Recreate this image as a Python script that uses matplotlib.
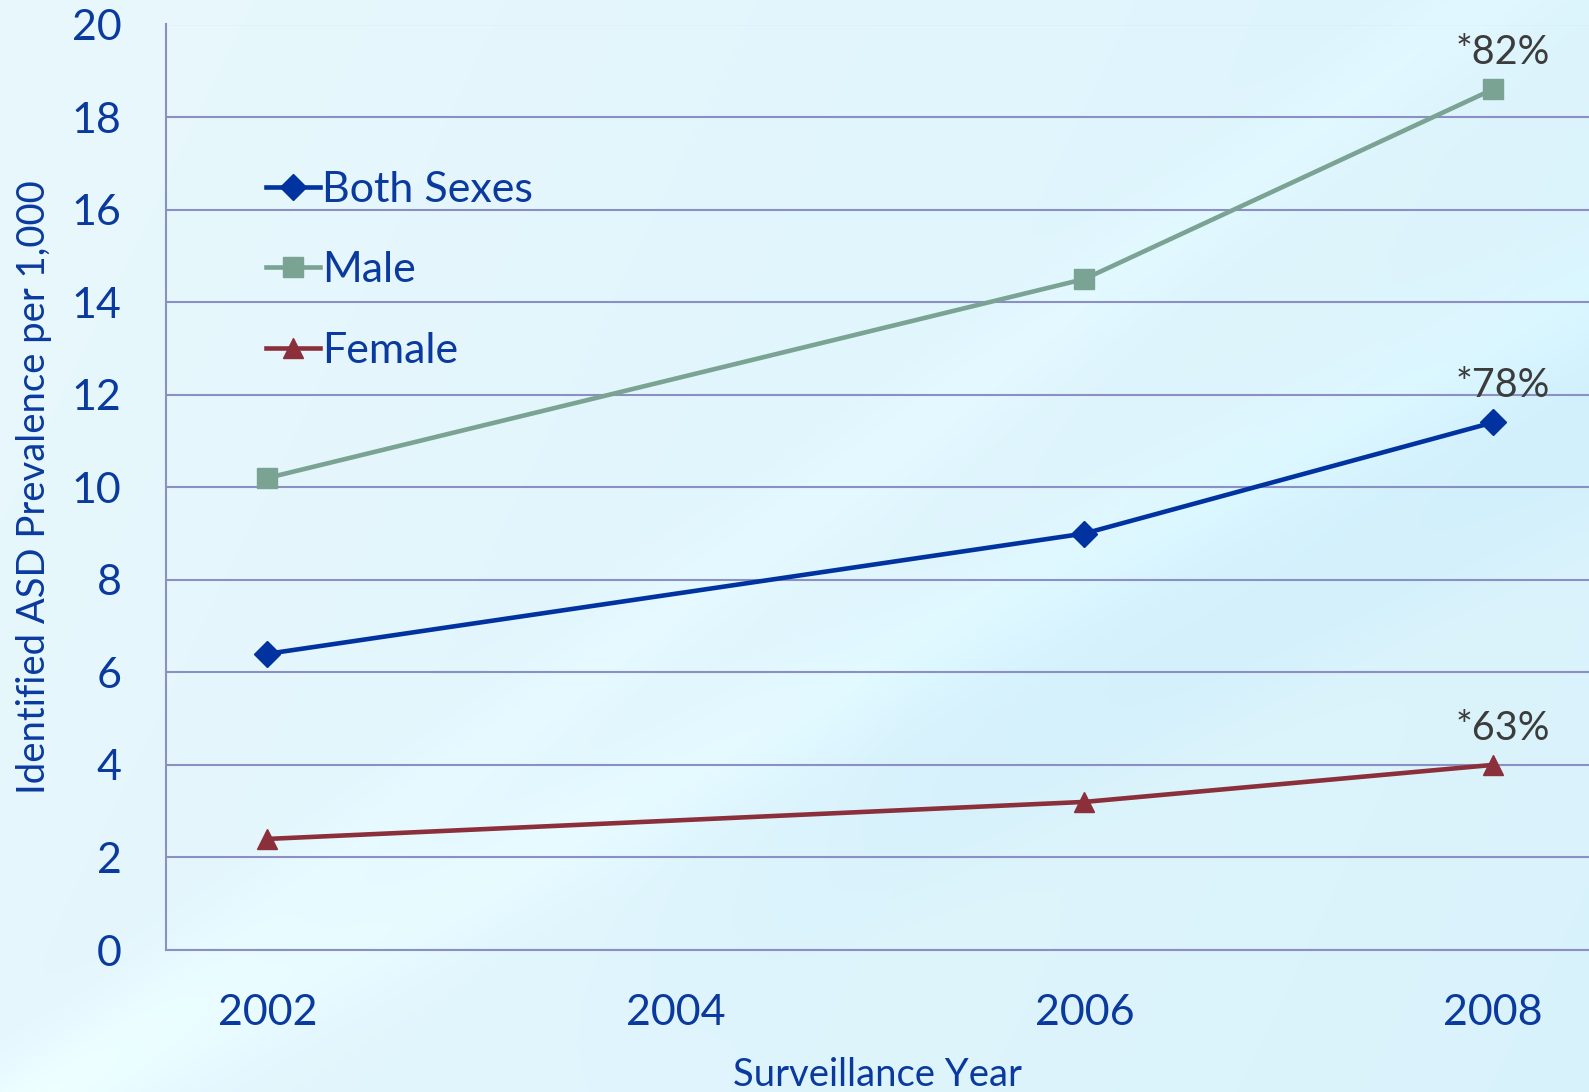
import numpy as np
import matplotlib
matplotlib.use("Agg")
import matplotlib.pyplot as plt

# ---- data ----
years = ["2002", "2004", "2006", "2008"]
both_sexes = [6.4, np.nan, 9.0, 11.4]
male = [10.2, np.nan, 14.5, 18.6]
female = [2.4, np.nan, 3.2, 4.0]
increase_labels = ["*78%", "*82%", "*63%"]
y_ticks = [0, 2, 4, 6, 8, 10, 12, 14, 16, 18, 20]

plt.rcParams['font.family'] = ['Lato', 'DejaVu Sans']

W, H = 1589, 1092
fig = plt.figure(figsize=(W / 100, H / 100), dpi=100)

# ---- background gradient with soft diagonal bands ----
bg = fig.add_axes([0, 0, 1, 1], zorder=-10)
yy, xx = np.mgrid[0:H:2, 0:W:2].astype(float)
xn, yn = xx / W, yy / H
base_light = np.array([233, 248, 253]) / 255
base_dark = np.array([212, 241, 251]) / 255
t = np.clip(0.6 * xn + 0.2 * yn, 0, 1)
img = base_light[None, None, :] * (1 - t[..., None]) + base_dark[None, None, :] * t[..., None]

def sig(z, w):
    return 1 / (1 + np.exp(-z / w))

# light diagonal streaks from lower left
d1 = (xx - 1.9 * (H - yy)) / W
img = img + (np.exp(-((d1 - 0.05) / 0.07) ** 2))[..., None] * 0.022
d3 = (yy - (H - 0.75 * xx)) / H
img = img + (np.exp(-((d3 - 0.02) / 0.05) ** 2))[..., None] * 0.015
# darker cyan band lower right
d2 = (yy - (H + 100 - 0.55 * (xx - 400))) / H
band2 = sig(d2 + 0.25, 0.02) * sig(-d2 - 0.02, 0.02) * sig((xx - 800) / W, 0.05)
img = img - band2[..., None] * np.array([0.035, 0.012, 0.0])
img = np.clip(img, 0, 1)
bg.imshow(img, aspect='auto', extent=[0, 1, 0, 1], origin='upper')
bg.axis('off')

# ---- main axes ----
left, right = 166 / W, 1.0
bottom, top = 1 - 950 / H, 1 - 24.5 / H
ax = fig.add_axes([left, bottom, right - left, top - bottom])
ax.patch.set_alpha(0)

axis_blue = '#0a3a9e'
grid_col = '#8c8fc2'
c_both = '#0033a0'
c_male = '#7ba393'
c_female = '#8b2f3a'

x = np.arange(len(years))

def draw(vals, color, marker, ms, label):
    v = np.array(vals, dtype=float)
    m = ~np.isnan(v)
    ax.plot(x[m], v[m], color=color, lw=3.3, marker=marker, ms=ms,
            markeredgecolor=color, markerfacecolor=color, label=label, zorder=3)

draw(both_sexes, c_both, 'D', 13, 'Both Sexes')
draw(male, c_male, 's', 14, 'Male')
draw(female, c_female, '^', 14, 'Female')

ax.set_xlim(-0.248, 3.235)
ax.set_ylim(0, 20)
ax.set_xticks(x)
ax.set_xticklabels(years)
ax.set_yticks(y_ticks)
ax.tick_params(axis='both', length=0, labelsize=31, labelcolor=axis_blue)
ax.tick_params(axis='x', pad=32)
ax.tick_params(axis='y', pad=32)
ax.grid(axis='y', color=grid_col, lw=1.5, zorder=1)
ax.set_axisbelow(True)
for s in ['top', 'right']:
    ax.spines[s].set_visible(False)
for s in ['left', 'bottom']:
    ax.spines[s].set_color(grid_col)
    ax.spines[s].set_linewidth(1.5)

ax.set_ylabel('Identified ASD Prevalence per 1,000', fontsize=27.5, color=axis_blue, labelpad=14)
ax.set_xlabel('Surveillance Year', fontsize=27.5, color=axis_blue, labelpad=18)

# annotations above 2008 points
last_vals = [both_sexes[-1], male[-1], female[-1]]
for val, lab in zip(last_vals, increase_labels):
    ax.annotate(lab, (x[-1], val), xytext=(7, 13), textcoords='offset points',
                ha='center', va='bottom', fontsize=28.5, color='#3c3c3c')

leg = ax.legend(loc='upper left', bbox_to_anchor=(0.058, 0.86), frameon=False,
                fontsize=31, handlelength=1.25, handletextpad=0.05,
                labelspacing=0.98, borderaxespad=0)
for t_ in leg.get_texts():
    t_.set_color(axis_blue)

fig.savefig('out.png', dpi=100)
